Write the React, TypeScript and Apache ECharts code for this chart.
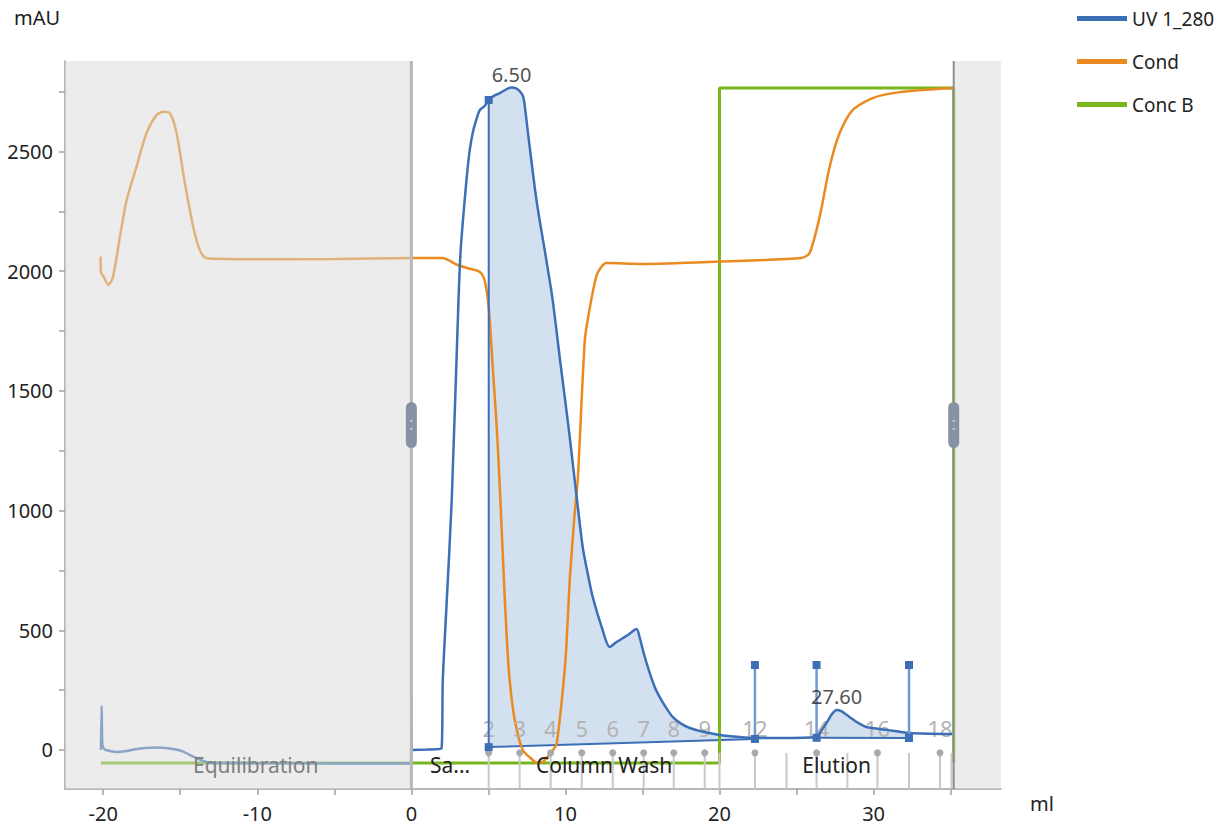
import { useEffect, useRef } from "react";
import * as echarts from "echarts";

// Axis ranges (ml, mAU)
const X_MIN = -22.48;
const X_MAX = 38.27;
const Y_MIN = -163;
const Y_MAX = 2878;

const X_TICKS = [-20, -15, -10, -5, 0, 5, 10, 15, 20, 25, 30, 35];
const X_LABELS = [-20, -10, 0, 10, 20, 30];
const Y_TICKS = [0, 250, 500, 750, 1000, 1250, 1500, 1750, 2000, 2250, 2500, 2750];
const Y_LABELS = [0, 500, 1000, 1500, 2000, 2500];

// Run end (ml)
const RUN_END = 35.2;

// UV 1_280 trace [ml, mAU]
const UV_280: [number, number][] = [
  [-20.15, 0], [-20.1, 184], [-20.05, 20], [-19.9, 2], [-19.5, -5], [-19.1, -8],
  [-18.5, -4], [-18, 2], [-17.3, 8], [-16.5, 10], [-15.8, 7], [-14.9, -4],
  [-14.4, -20], [-13.8, -38], [-13.3, -50], [-12.9, -54], [-10, -55], [-5, -56],
  [-0.03, -57], [0, 221], [0.03, 0], [1.0, 2], [1.95, 5], [2.04, 292], [2.3, 627],
  [2.62, 1044], [3.06, 1880], [3.2, 2088], [3.46, 2297], [3.66, 2435], [3.79, 2506],
  [3.98, 2577], [4.2, 2630], [4.44, 2673], [4.76, 2690], [5.02, 2715], [5.28, 2729],
  [5.74, 2744], [6.19, 2761], [6.5, 2767], [6.8, 2764], [7.03, 2752], [7.18, 2740],
  [7.29, 2720], [7.4, 2670], [7.57, 2577], [8.12, 2297], [8.76, 2047], [9.17, 1880],
  [9.69, 1608], [10.2, 1350], [10.6, 1128], [11.12, 848], [11.5, 720], [11.77, 639],
  [12.35, 514], [12.87, 430], [13.32, 451], [14.0, 478], [14.62, 505], [14.81, 472],
  [15.1, 400], [15.47, 322], [15.8, 262], [16.12, 221], [16.5, 180], [16.96, 138],
  [17.5, 110], [18.07, 92], [19.0, 75], [20.0, 63], [21.3, 54], [22.3, 50], [24.0, 50],
  [26.3, 54], [26.6, 80], [26.95, 113], [27.3, 150], [27.6, 167], [27.9, 162],
  [28.44, 138], [29.0, 113], [29.54, 96], [30.84, 84], [32.3, 71], [35.1, 67],
];

// Conductivity trace, drawn on the mAU scale [ml, value]
const COND: [number, number][] = [
  [-20.17, 2061], [-20.15, 1995], [-19.95, 1975], [-19.68, 1942], [-19.37, 1975],
  [-18.9, 2150], [-18.48, 2297], [-17.84, 2436], [-17.19, 2577], [-16.54, 2652],
  [-16.1, 2666], [-15.67, 2660], [-15.24, 2577], [-14.7, 2368], [-14.16, 2186],
  [-13.73, 2088], [-13.3, 2054], [-10, 2050], [-5, 2051], [0, 2055], [2.0, 2055],
  [3.0, 2026], [3.8, 2010], [4.45, 1997], [4.75, 1963], [5.02, 1850], [5.28, 1600],
  [5.54, 1350], [5.74, 1099], [6.0, 720], [6.2, 460], [6.38, 292], [6.71, 125],
  [7.23, 0], [7.88, -42], [8.14, -54], [8.5, -50], [8.79, -33], [9.2, 0], [9.44, 29],
  [9.83, 250], [10.05, 420], [10.28, 710], [10.6, 990], [10.8, 1128], [11.26, 1712],
  [11.59, 1850], [12.0, 1977], [12.3, 2015], [12.66, 2034], [15, 2030], [20, 2040],
  [25.3, 2055], [25.85, 2076], [26.5, 2227], [27.15, 2436], [27.8, 2577],
  [28.64, 2673], [29.94, 2723], [31.69, 2748], [35.13, 2765],
];

// Concentration of buffer B [ml, %]
const CONC_B: [number, number][] = [
  [-20.15, 0], [20.0, 0], [20.0, 100], [35.2, 100], [35.2, 0],
];
// Where 0 % and 100 % B sit on the mAU scale
const CONC_ZERO_AT = -54;
const CONC_FULL_AT = 2765;

// Integrated peaks
const PEAK_RETENTION = [6.5, 27.6];
const PEAK_HEIGHT = [2767, 167];
const PEAK_START = [5.02, 26.3];
const PEAK_END = [22.3, 32.3];
const PEAK_BASE_START = [12, 51];
const PEAK_BASE_END = [46, 50];

// Peak boundary markers
const MARK_X = [5.02, 22.3, 26.3, 32.3];
const MARK_BOTTOM = [12, 46, 51, 50];
const MARK_TOP = [2715, 355, 355, 355];

// Fractions
const FRACTION_START = [5.02, 7.03, 9.04, 11.06, 13.07, 15.08, 17.03, 19.04, 20.0,
  22.3, 24.35, 26.3, 28.3, 30.25, 32.3, 34.31, 35.06];
const FRACTION_LABEL = ["2", "3", "4", "5", "6", "7", "8", "9", "", "12", "", "14", "",
  "16", "", "18", ""];

// Method phases
const PHASE_NAME = ["Equilibration", "Sa...", "Column Wash", "Elution"];
const PHASE_START = [-20.2, 0, 5.02, 20.0];
const PHASE_END = [0, 5.02, 20.0, 35.2];

const FONT = "'Noto Sans', 'Open Sans', sans-serif";
const UV_COLOR = "#3d6fb6";
const COND_COLOR = "#ea8a1f";
const CONC_COLOR = "#79b51c";
const AXIS_COLOR = "#a0a0a0";

const FRACTION_MARK_TOP = -12;
const FRACTION_LABEL_Y = 92;
const PHASE_LABEL_Y = -63;

function buildOption(): echarts.EChartsCoreOption {
  const concMin = ((Y_MIN - CONC_ZERO_AT) / (CONC_FULL_AT - CONC_ZERO_AT)) * 100;
  const concMax = ((Y_MAX - CONC_ZERO_AT) / (CONC_FULL_AT - CONC_ZERO_AT)) * 100;

  return {
    animation: false,
    textStyle: { fontFamily: FONT },
    grid: { left: 65, top: 61, right: 217, bottom: 40, containLabel: false },
    legend: {
      data: ["UV 1_280", "Cond", "Conc B"],
      orient: "vertical",
      left: 1072,
      top: 4,
      icon: "rect",
      itemWidth: 50,
      itemHeight: 5,
      itemGap: 24,
      selectedMode: false,
      textStyle: { fontSize: 19, color: "#222", fontFamily: FONT },
    },
    graphic: [
      { type: "text", left: 14, top: 7, style: { text: "mAU", font: `20px ${FONT}`, fill: "#222" } },
      { type: "text", left: 1030, top: 793, style: { text: "ml", font: `20px ${FONT}`, fill: "#222" } },
    ],
    xAxis: {
      type: "value",
      min: X_MIN,
      max: X_MAX,
      splitLine: { show: false },
      axisLine: { show: true, onZero: false, lineStyle: { color: AXIS_COLOR, width: 1.5 } },
      axisTick: { show: true, length: 6, customValues: X_TICKS, lineStyle: { color: AXIS_COLOR, width: 1.5 } },
      axisLabel: {
        customValues: X_LABELS,
        margin: 14,
        fontSize: 20,
        color: "#222",
        fontFamily: FONT,
        formatter: (v: number) => String(v),
      },
    },
    yAxis: [
      {
        type: "value",
        min: Y_MIN,
        max: Y_MAX,
        splitLine: { show: false },
        axisLine: { show: true, onZero: false, lineStyle: { color: AXIS_COLOR, width: 1.5 } },
        axisTick: { show: true, length: 6, customValues: Y_TICKS, lineStyle: { color: AXIS_COLOR, width: 1.5 } },
        axisLabel: {
          customValues: Y_LABELS,
          margin: 12,
          fontSize: 20,
          color: "#222",
          fontFamily: FONT,
          formatter: (v: number) => String(v),
        },
      },
      { type: "value", min: concMin, max: concMax, show: false, splitLine: { show: false } },
    ],
    series: [
      // Peak areas between trace and baseline
      {
        type: "custom",
        name: "peak-area",
        z: 1,
        silent: true,
        data: PEAK_START.map((s, i) => [s, PEAK_END[i]]),
        encode: { x: [0, 1] },
        renderItem: (params: any, api: any) => {
          const i = params.dataIndex;
          const s = PEAK_START[i];
          const e = PEAK_END[i];
          const pts: number[][] = UV_280.filter(([x]) => x >= s && x <= e).map((p) => api.coord(p));
          const b1 = api.coord([e, PEAK_BASE_END[i]]);
          const b0 = api.coord([s, PEAK_BASE_START[i]]);
          return {
            type: "group",
            children: [
              { type: "polygon", shape: { points: [...pts, b1, b0] }, style: { fill: "#d3e0f0" } },
              { type: "line", shape: { x1: b0[0], y1: b0[1], x2: b1[0], y2: b1[1] }, style: { stroke: UV_COLOR, lineWidth: 2 } },
            ],
          };
        },
      },
      {
        type: "line",
        name: "Conc B",
        yAxisIndex: 1,
        data: CONC_B,
        showSymbol: false,
        z: 2,
        color: CONC_COLOR,
        itemStyle: { color: CONC_COLOR },
        lineStyle: { color: CONC_COLOR, width: 3 },
      },
      {
        type: "line",
        name: "Cond",
        data: COND,
        showSymbol: false,
        smooth: 0.25,
        z: 2,
        color: COND_COLOR,
        itemStyle: { color: COND_COLOR },
        lineStyle: { color: COND_COLOR, width: 2.5 },
      },
      {
        type: "line",
        name: "UV 1_280",
        data: UV_280,
        showSymbol: false,
        smooth: 0.25,
        z: 3,
        color: UV_COLOR,
        itemStyle: { color: UV_COLOR },
        lineStyle: { color: UV_COLOR, width: 2.5 },
      },
      // Fraction marks
      {
        type: "custom",
        name: "fractions",
        z: 3,
        silent: true,
        data: FRACTION_START.map((x) => [x, 0]),
        encode: { x: 0, y: 1 },
        renderItem: (params: any, api: any) => {
          const i = params.dataIndex;
          const x = api.value(0);
          const b = api.coord([x, Y_MIN]);
          const t = api.coord([x, FRACTION_MARK_TOP]);
          const children: any[] = [
            { type: "line", shape: { x1: b[0], y1: b[1], x2: t[0], y2: t[1] }, style: { stroke: "#c9c9c9", lineWidth: 2 } },
          ];
          if (FRACTION_LABEL[i]) {
            const l = api.coord([x, FRACTION_LABEL_Y]);
            children.push({ type: "circle", shape: { cx: t[0], cy: t[1], r: 3.5 }, style: { fill: "#a9a9a9" } });
            children.push({
              type: "text",
              x: l[0],
              y: l[1],
              style: { text: FRACTION_LABEL[i], fill: "#b3b3b3", font: `22px ${FONT}`, align: "center", verticalAlign: "middle" },
            });
          }
          return { type: "group", children };
        },
      },
      // Peak boundary markers
      {
        type: "custom",
        name: "peak-marks",
        z: 4,
        silent: true,
        data: MARK_X.map((x, i) => [x, MARK_BOTTOM[i], MARK_TOP[i]]),
        encode: { x: 0, y: [1, 2] },
        renderItem: (params: any, api: any) => {
          const i = params.dataIndex;
          const x = api.value(0);
          const p0 = api.coord([x, api.value(1)]);
          const p1 = api.coord([x, api.value(2)]);
          const onTrace = i === 0;
          const stroke = onTrace ? UV_COLOR : "#6e9bd3";
          const sq = (p: number[]) => ({
            type: "rect",
            shape: { x: p[0] - 4, y: p[1] - 4, width: 8, height: 8 },
            style: { fill: UV_COLOR },
          });
          return {
            type: "group",
            children: [
              { type: "line", shape: { x1: p0[0], y1: p0[1], x2: p1[0], y2: p1[1] }, style: { stroke, lineWidth: onTrace ? 2 : 2.5 } },
              sq(p0),
              sq(p1),
            ],
          };
        },
      },
      // Peak retention labels
      {
        type: "scatter",
        name: "peak-labels",
        z: 4,
        silent: true,
        symbolSize: 0,
        data: PEAK_RETENTION.map((x, i) => [x, PEAK_HEIGHT[i]]),
        label: {
          show: true,
          position: "top",
          distance: 3,
          formatter: (p: any) => p.value[0].toFixed(2),
          fontSize: 20,
          color: "#222",
          fontFamily: FONT,
        },
      },
      // Phase names
      {
        type: "custom",
        name: "phases",
        z: 4,
        silent: true,
        data: PHASE_START.map((s, i) => [(s + PHASE_END[i]) / 2, PHASE_LABEL_Y]),
        encode: { x: 0, y: 1 },
        renderItem: (params: any, api: any) => {
          const p = api.coord([api.value(0), api.value(1)]);
          return {
            type: "text",
            x: p[0],
            y: p[1],
            style: {
              text: PHASE_NAME[params.dataIndex],
              fill: "#222",
              font: `21px ${FONT}`,
              align: "center",
              verticalAlign: "middle",
            },
          };
        },
      },
      // Shading outside the run window
      {
        type: "custom",
        name: "shade",
        z: 6,
        silent: true,
        data: [[X_MIN, 0], [RUN_END, X_MAX]],
        encode: { x: [0, 1] },
        renderItem: (params: any, api: any) => {
          const a = api.coord([api.value(0), Y_MAX]);
          const b = api.coord([api.value(1), Y_MIN]);
          return {
            type: "rect",
            shape: { x: a[0], y: a[1], width: b[0] - a[0], height: b[1] - a[1] },
            style: { fill: "rgba(218,218,218,0.5)" },
          };
        },
      },
      // Run window cursors with drag handles
      {
        type: "custom",
        name: "cursors",
        z: 8,
        silent: true,
        data: [[0, 0], [RUN_END, 0]],
        encode: { x: 0, y: 1 },
        renderItem: (params: any, api: any) => {
          const cs = params.coordSys;
          const x = api.coord([api.value(0), 0])[0];
          const first = params.dataIndex === 0;
          const midY = cs.y + cs.height / 2;
          return {
            type: "group",
            children: [
              {
                type: "line",
                shape: { x1: x, y1: cs.y, x2: x, y2: cs.y + cs.height },
                style: { stroke: first ? "#b8b8b8" : "#8a918c", lineWidth: first ? 3 : 2 },
              },
              {
                type: "rect",
                shape: { x: x - 5.5, y: midY - 23, width: 11, height: 46, r: 5.5 },
                style: { fill: "#8793a3" },
              },
              { type: "circle", shape: { cx: x, cy: midY - 4, r: 1.2 }, style: { fill: "#c8d0da" } },
              { type: "circle", shape: { cx: x, cy: midY + 4, r: 1.2 }, style: { fill: "#c8d0da" } },
            ],
          };
        },
      },
    ],
  };
}

export default function App() {
  const ref = useRef<HTMLDivElement>(null);
  useEffect(() => {
    if (!ref.current) return;
    const chart = echarts.init(ref.current, undefined, { renderer: "svg" });
    chart.setOption(buildOption());
    return () => chart.dispose();
  }, []);
  return (
    <div
      ref={ref}
      style={{ position: "absolute", left: 0, top: 0, width: 1218, height: 829, background: "#fff" }}
    />
  );
}
